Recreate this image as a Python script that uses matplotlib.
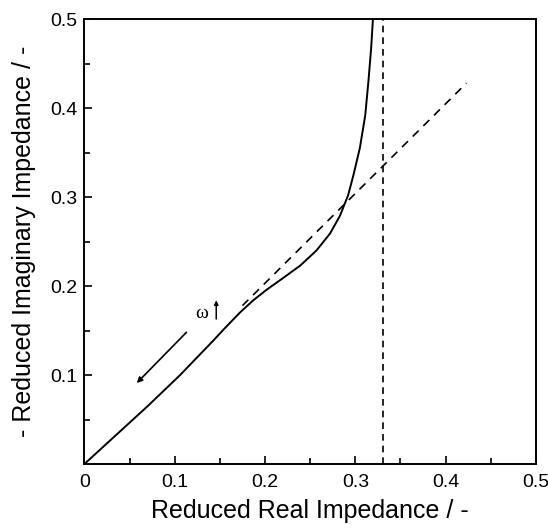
import matplotlib
matplotlib.use('Agg')
import matplotlib.pyplot as plt

plt.rcParams['font.family'] = ['Liberation Sans', 'DejaVu Sans']

# solid curve
z_real = [0.0, 0.070, 0.106, 0.143, 0.154, 0.172, 0.187, 0.202, 0.220, 0.239,
          0.257, 0.272, 0.283, 0.292, 0.298, 0.305, 0.311, 0.3145, 0.3175, 0.3195]
z_imag = [0.0, 0.065, 0.100, 0.139, 0.151, 0.170, 0.184, 0.196, 0.209, 0.223,
          0.240, 0.259, 0.279, 0.302, 0.325, 0.355, 0.392, 0.430, 0.467, 0.500]

# 45 degree asymptote (dashed)
asym_x = [0.175, 0.423]
asym_y = [0.178, 0.428]

# low frequency limit
lim_x = 0.331

fig = plt.figure(figsize=(5.48, 5.30), dpi=100)
ax = fig.add_axes([0.154, 0.1245, 0.824, 0.8395])

ax.plot(z_real, z_imag, color='black', lw=1.4)
ax.plot(asym_x, asym_y, color='black', lw=1.2, ls=(0, (5, 4)))
ax.plot([lim_x, lim_x], [0, 0.5], color='black', lw=1.2, ls=(0, (4, 3)))

# frequency direction arrow
ax.annotate('', xy=(0.058, 0.091), xytext=(0.113, 0.148),
            arrowprops=dict(arrowstyle='-|>', color='black', lw=1.2,
                            mutation_scale=8, shrinkA=0, shrinkB=0))
ax.text(0.130, 0.169, 'ω', family=['Liberation Serif', 'DejaVu Serif'],
        fontsize=14, ha='center', va='center')
ax.annotate('', xy=(0.146, 0.184), xytext=(0.146, 0.163),
            arrowprops=dict(arrowstyle='-|>', color='black', lw=1.1,
                            mutation_scale=6, shrinkA=0, shrinkB=0))

ax.set_xlim(0, 0.5)
ax.set_ylim(0, 0.5)
ax.set_xticks([0, 0.1, 0.2, 0.3, 0.4, 0.5])
ax.set_xticklabels(['0', '0.1', '0.2', '0.3', '0.4', '0.5'])
ax.set_yticks([0.1, 0.2, 0.3, 0.4, 0.5])
ax.set_yticklabels(['0.1', '0.2', '0.3', '0.4', '0.5'])
ax.set_xticks([0.05, 0.15, 0.25, 0.35, 0.45], minor=True)
ax.set_yticks([0.05, 0.15, 0.25, 0.35, 0.45], minor=True)
ax.tick_params(which='both', direction='in', top=False, right=False,
               labelsize=14, width=1.2)
ax.tick_params(which='major', length=6)
ax.tick_params(which='minor', length=4)
ax.tick_params(axis='x', which='major', pad=7)
ax.tick_params(axis='y', which='major', pad=5)
for s in ax.spines.values():
    s.set_linewidth(1.4)

ax.set_xlabel('Reduced Real Impedance / -', fontsize=18, labelpad=6)
ax.set_ylabel('- Reduced Imaginary Impedance / -', fontsize=18, labelpad=10)

fig.savefig('out.png', dpi=100)
